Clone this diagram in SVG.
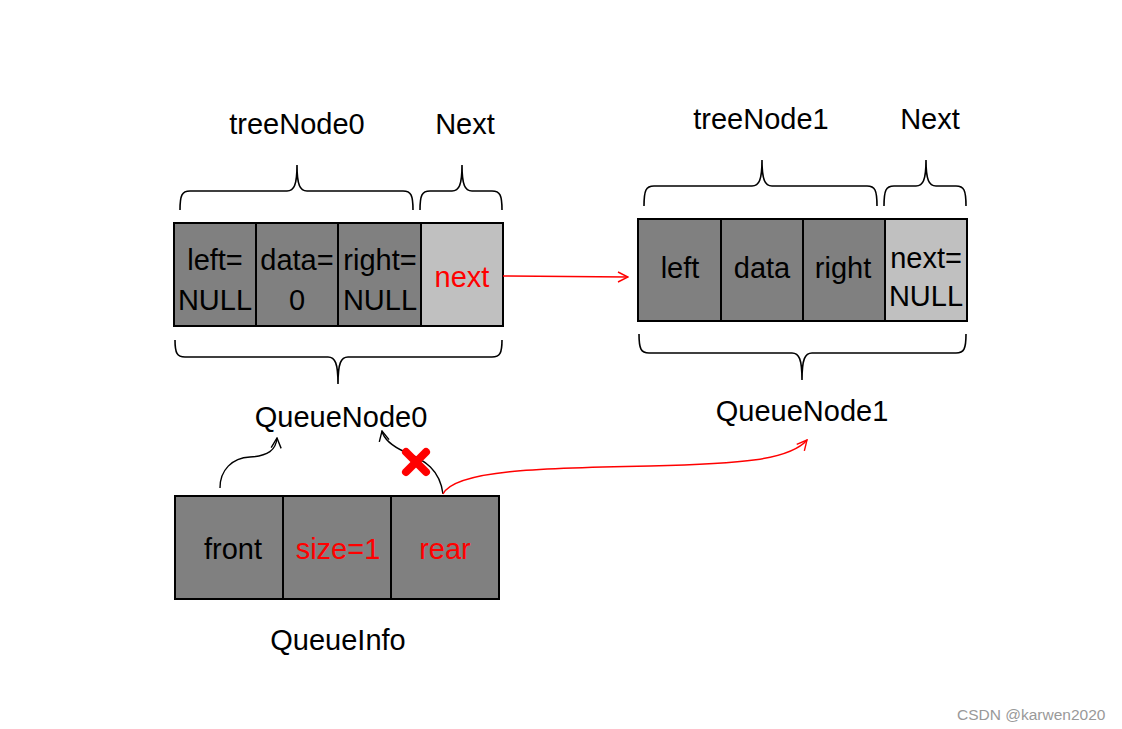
<svg xmlns="http://www.w3.org/2000/svg" width="1122" height="729" viewBox="0 0 1122 729">
<style>
text{font-family:"Liberation Sans",Arial,sans-serif;font-size:29px;text-anchor:middle;fill:#000}
.red{fill:#ff0000}
.dark{fill:#808080;stroke:#000;stroke-width:2}
.light{fill:#c0c0c0;stroke:#000;stroke-width:2}
.brace{fill:none;stroke:#000;stroke-width:1.6}
.wm{font-size:15.5px;fill:#999;text-anchor:start}
</style>
<defs>
<marker id="ab" viewBox="0 0 12 12" refX="11" refY="6" markerWidth="12" markerHeight="12" markerUnits="userSpaceOnUse" orient="auto">
<path d="M1,1 L11,6 L1,11" fill="none" stroke="#000" stroke-width="1.4"/>
</marker>
<marker id="ar" viewBox="0 0 12 12" refX="11" refY="6" markerWidth="12" markerHeight="12" markerUnits="userSpaceOnUse" orient="auto">
<path d="M1,1 L11,6 L1,11" fill="none" stroke="#f00" stroke-width="1.4"/>
</marker>
</defs>
<rect width="1122" height="729" fill="#fff"/>

<g id="treeNode0">
<text x="297" y="134">treeNode0</text>
<text x="465" y="134">Next</text>
<path class="brace" d="M180,210 C180,195 182,191 190,191 L287,191 C294,191 297,185 297,165 C297,185 300,191 307,191 L403,191 C411,191 413,195 413,210"/>
<path class="brace" d="M420,210 C420,195 422,191 430,191 L452,191 C459,191 462,185 462,165 C462,185 465,191 472,191 L492,191 C500,191 502,195 502,210"/>
<rect class="dark" x="174" y="223" width="82" height="103"/>
<rect class="dark" x="256" y="223" width="82" height="103"/>
<rect class="dark" x="338" y="223" width="83" height="103"/>
<rect class="light" x="421" y="223" width="82" height="103"/>
<text x="215" y="270">left=</text>
<text x="215" y="310">NULL</text>
<text x="297" y="270">data=</text>
<text x="297" y="310">0</text>
<text x="380" y="270">right=</text>
<text x="380" y="310">NULL</text>
<text class="red" x="462" y="287">next</text>
<path class="brace" d="M175,340 C175,353 177,357 185,357 L328,357 C335,357 338,363 338,384 C338,363 341,357 348,357 L492,357 C500,357 502,353 502,340"/>
<text x="341" y="427">QueueNode0</text>
</g>

<g id="treeNode1">
<text x="761" y="129">treeNode1</text>
<text x="930" y="129">Next</text>
<path class="brace" d="M644,206 C644,190 646,186 654,186 L752,186 C759,186 762,180 762,160 C762,180 765,186 772,186 L867,186 C875,186 877,190 877,206"/>
<path class="brace" d="M884,206 C884,190 886,186 894,186 L916,186 C923,186 926,180 926,160 C926,180 929,186 936,186 L956,186 C964,186 966,190 966,206"/>
<rect class="dark" x="638" y="219" width="83" height="102"/>
<rect class="dark" x="721" y="219" width="82" height="102"/>
<rect class="dark" x="803" y="219" width="82" height="102"/>
<rect class="light" x="885" y="219" width="82" height="102"/>
<text x="680" y="278">left</text>
<text x="762" y="278">data</text>
<text x="843" y="278">right</text>
<text x="926" y="268">next=</text>
<text x="926" y="306">NULL</text>
<path class="brace" d="M639,334 C639,349 641,353 649,353 L792,353 C799,353 802,359 802,380 C802,359 805,353 812,353 L956,353 C964,353 966,349 966,334"/>
<text x="802" y="421">QueueNode1</text>
</g>

<g id="QueueInfo">
<rect class="dark" x="175" y="496" width="108" height="103"/>
<rect class="dark" x="283" y="496" width="108" height="103"/>
<rect class="dark" x="391" y="496" width="108" height="103"/>
<text x="233" y="559">front</text>
<text class="red" x="338" y="559">size=1</text>
<text class="red" x="445" y="559">rear</text>
<text x="338" y="650">QueueInfo</text>
</g>

<g id="connectors" fill="none">
<path d="M503,276 C540,276 590,277 628,277" stroke="#f00" stroke-width="1.4" marker-end="url(#ar)"/>
<path d="M220,488 C220,470 232,458 250,457 C268,456 276,450 277,438" stroke="#000" stroke-width="1.4" marker-end="url(#ab)"/>
<path d="M443,494 C440,470 425,460 405,452 C392,446 384,440 382,431" stroke="#000" stroke-width="1.4" marker-end="url(#ab)"/>
<path d="M443,494 C455,470 540,468 650,466 C740,464 790,460 807,440" stroke="#f00" stroke-width="1.4" marker-end="url(#ar)"/>
<g id="cross" stroke="#f00" stroke-width="8" stroke-linecap="round">
<line x1="406" y1="452" x2="426" y2="472"/>
<line x1="426" y1="452" x2="406" y2="472"/>
</g>
</g>

<text class="wm" x="957" y="720">CSDN @karwen2020</text>
</svg>
